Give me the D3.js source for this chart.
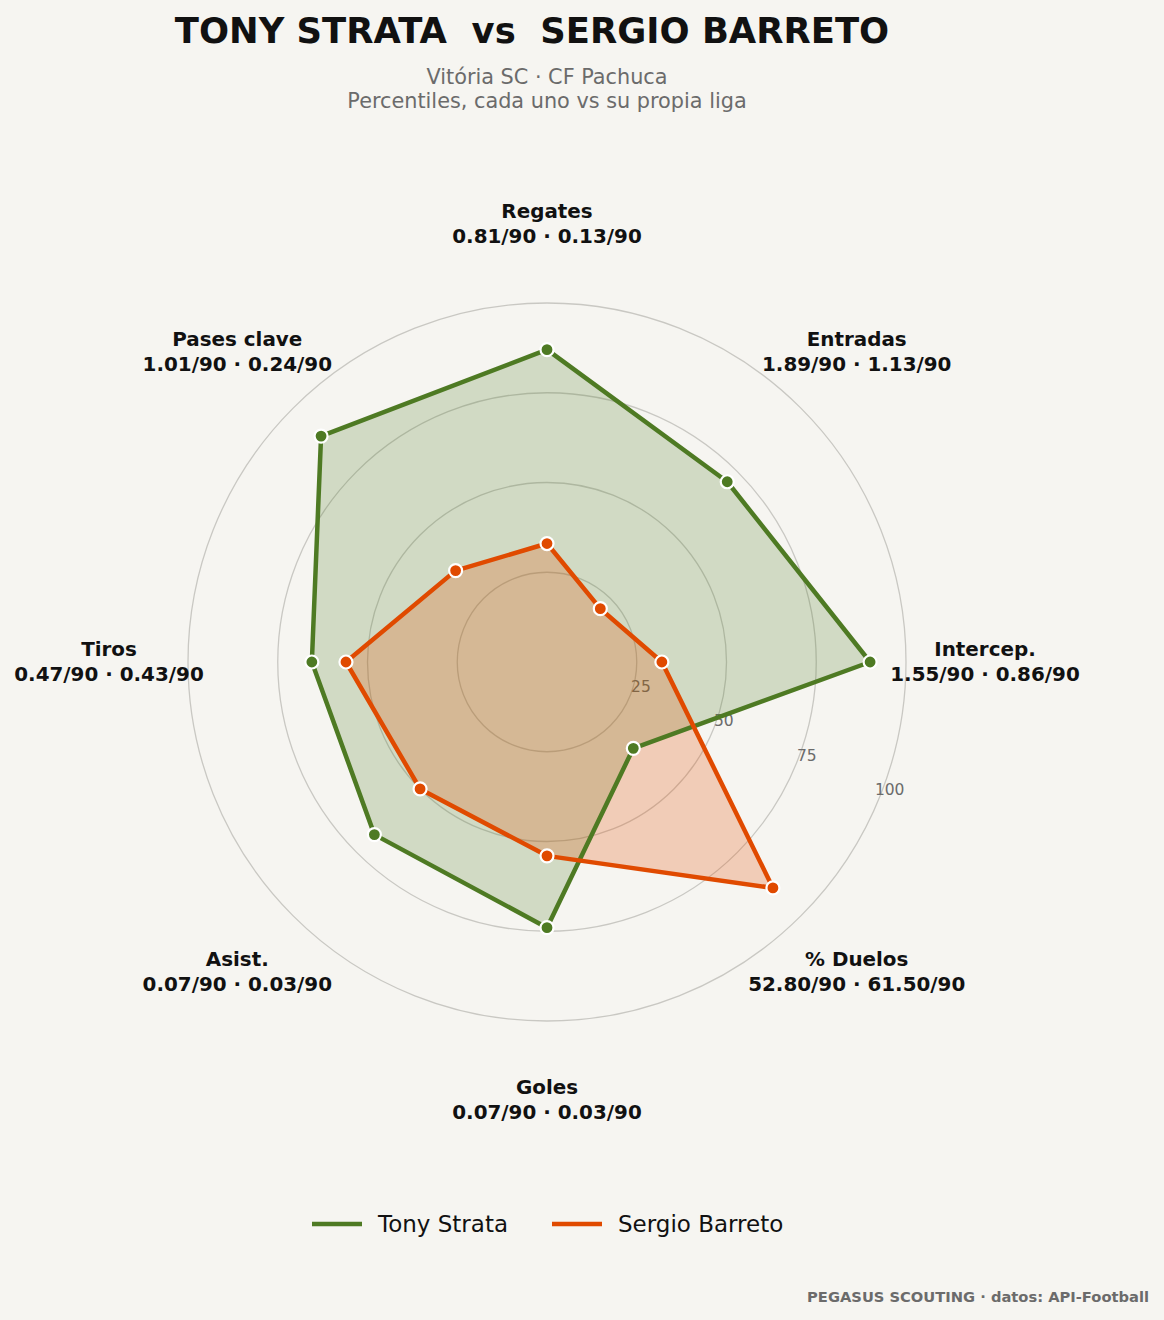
<!DOCTYPE html>
<html>
<head>
<meta charset="utf-8">
<script src="https://cdn.jsdelivr.net/npm/d3@7"></script>
<style>
  html, body { margin: 0; padding: 0; background: #f6f5f1; }
  svg { display: block; font-family: "DejaVu Sans", sans-serif; }
  text { white-space: pre; }
</style>
</head>
<body>
<svg id="chart" width="1164" height="1320"></svg>
<script>
// ---- data ----
const categories = ["Regates", "Entradas", "Intercep.", "% Duelos", "Goles", "Asist.", "Tiros", "Pases clave"];
const perAxisValues = [
  "0.81/90 · 0.13/90",
  "1.89/90 · 1.13/90",
  "1.55/90 · 0.86/90",
  "52.80/90 · 61.50/90",
  "0.07/90 · 0.03/90",
  "0.07/90 · 0.03/90",
  "0.47/90 · 0.43/90",
  "1.01/90 · 0.24/90"
];
const tonyStrata = [87, 71, 90, 34, 74, 68, 65.5, 89];
const sergioBarreto = [33, 21, 32, 89, 54, 50, 56, 36];
const seriesNames = ["Tony Strata", "Sergio Barreto"];
const ringTicks = [25, 50, 75, 100];

const titleText = "TONY STRATA  vs  SERGIO BARRETO";
const subtitleLines = ["Vitória SC · CF Pachuca", "Percentiles, cada uno vs su propia liga"];
const footerText = "PEGASUS SCOUTING · datos: API-Football";

// ---- layout ----
const W = 1164, H = 1320;
const cx = 547, cy = 662, R = 359;
const colors = ["#4e7a23", "#e04a00"];

const svg = d3.select("#chart");
svg.append("rect").attr("width", W).attr("height", H).attr("fill", "#f6f5f1");

const rScale = d3.scaleLinear().domain([0, 100]).range([0, R]);
const aScale = d3.scaleLinear().domain([0, categories.length]).range([0, 2 * Math.PI]);

const g = svg.append("g").attr("transform", `translate(${cx},${cy})`);

// grid rings
g.selectAll("circle.ring").data(ringTicks).join("circle")
  .attr("class", "ring")
  .attr("r", d => rScale(d))
  .attr("fill", "none")
  .attr("stroke", "#c9c8c3")
  .attr("stroke-width", 1.3);

// ring tick labels (along 22.5° below the east axis)
const tickAngle = aScale(2.5);
g.selectAll("text.tick").data(ringTicks).join("text")
  .attr("class", "tick")
  .attr("x", d => rScale(d) * Math.sin(tickAngle) + 11)
  .attr("y", d => -rScale(d) * Math.cos(tickAngle) - 10 + 5.5)
  .attr("text-anchor", "middle")
  .attr("font-size", 15.5)
  .attr("fill", "#6b6b6b")
  .text(d => d);

// series
const line = d3.lineRadial()
  .angle((d, i) => aScale(i))
  .radius(d => rScale(d))
  .curve(d3.curveLinearClosed);

const allSeries = [tonyStrata, sergioBarreto];
const fillOp = [0.22, 0.24];

const fills = g.append("g"), lines = g.append("g"), marks = g.append("g");
allSeries.forEach((vals, si) => {
  fills.append("path")
    .attr("d", line(vals))
    .attr("fill", colors[si])
    .attr("fill-opacity", fillOp[si])
    .attr("stroke", "none");
});
allSeries.forEach((vals, si) => {
  lines.append("path")
    .attr("d", line(vals))
    .attr("fill", "none")
    .attr("stroke", colors[si])
    .attr("stroke-width", 4.5)
    .attr("stroke-linejoin", "round");
});
allSeries.forEach((vals, si) => {
  marks.append("g").selectAll("circle").data(vals).join("circle")
    .attr("cx", (d, i) => rScale(d) * Math.sin(aScale(i)))
    .attr("cy", (d, i) => -rScale(d) * Math.cos(aScale(i)))
    .attr("r", 6.5)
    .attr("fill", colors[si])
    .attr("stroke", "#ffffff")
    .attr("stroke-width", 2.2);
});

// axis labels
const labelR = 438;
const lab = g.selectAll("g.lab").data(categories).join("g")
  .attr("class", "lab")
  .attr("transform", (d, i) => `translate(${labelR * Math.sin(aScale(i))},${-labelR * Math.cos(aScale(i))})`);
lab.append("text")
  .attr("y", -12 + 6)
  .attr("text-anchor", "middle")
  .attr("font-size", 19.9)
  .attr("font-weight", "bold")
  .attr("fill", "#111")
  .text(d => d);
lab.append("text")
  .attr("y", 13 + 6)
  .attr("text-anchor", "middle")
  .attr("font-size", 19.9)
  .attr("font-weight", "bold")
  .attr("fill", "#111")
  .text((d, i) => perAxisValues[i]);

// title
svg.append("text")
  .attr("x", 532).attr("y", 43)
  .attr("text-anchor", "middle")
  .attr("font-size", 35.4)
  .attr("font-weight", "bold")
  .attr("fill", "#111")
  .attr("xml:space", "preserve")
  .text(titleText);

svg.selectAll("text.sub").data(subtitleLines).join("text")
  .attr("class", "sub")
  .attr("x", 547)
  .attr("y", (d, i) => 84 + i * 23.5)
  .attr("text-anchor", "middle")
  .attr("font-size", 20.8)
  .attr("fill", "#6b6b6b")
  .text(d => d);

// legend
const legendX = [312, 552];
const lg = svg.selectAll("g.leg").data(seriesNames).join("g")
  .attr("class", "leg")
  .attr("transform", (d, i) => `translate(${legendX[i]},1224)`);
lg.append("line")
  .attr("x1", 0).attr("x2", 50).attr("y1", 0).attr("y2", 0)
  .attr("stroke", (d, i) => colors[i])
  .attr("stroke-width", 4.5);
lg.append("text")
  .attr("x", 66).attr("y", 8)
  .attr("font-size", 23)
  .attr("fill", "#111")
  .text(d => d);

// footer
svg.append("text")
  .attr("x", 1149).attr("y", 1302)
  .attr("text-anchor", "end")
  .attr("font-size", 14.7)
  .attr("font-weight", "bold")
  .attr("fill", "#6b6b6b")
  .text(footerText);
</script>
</body>
</html>
